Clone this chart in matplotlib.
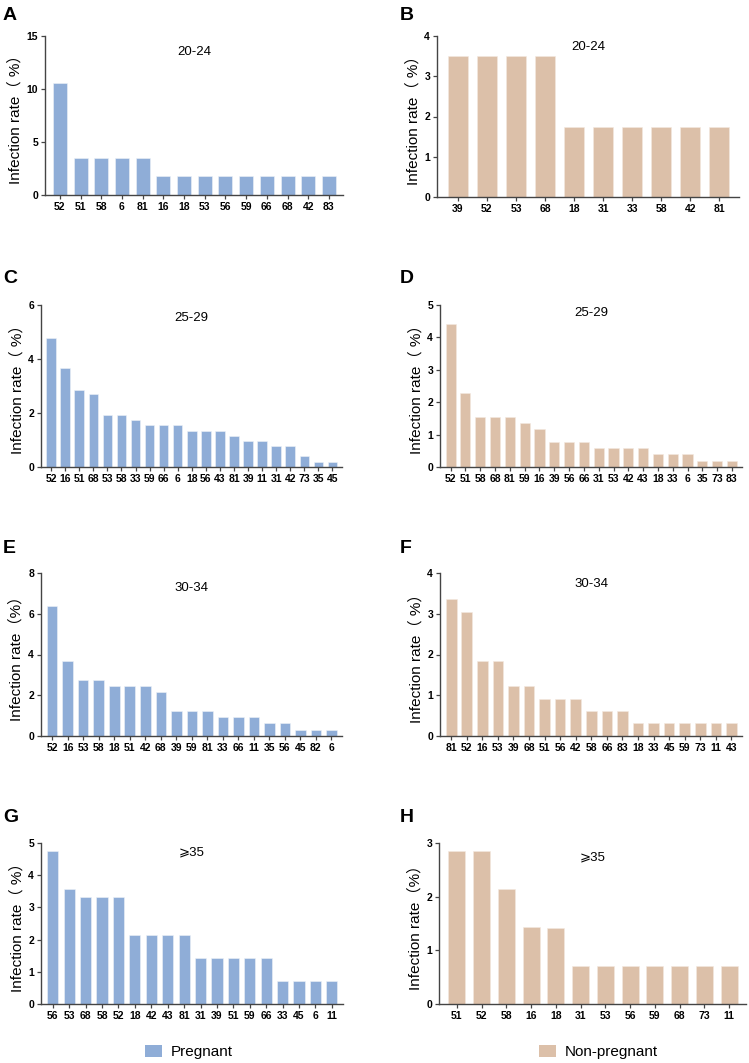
import matplotlib
matplotlib.use("Agg")
import matplotlib.pyplot as plt
from matplotlib.patches import Patch

plt.rcParams['font.family'] = ['Liberation Sans', 'DejaVu Sans', 'Noto Sans CJK SC']

BLUE = '#8FADD7'
TAN = '#DCC0A9'

# ---- data ----
a_labels = ['52', '51', '58', '6', '81', '16', '18', '53', '56', '59', '66', '68', '42', '83']
a_values = [10.53, 3.51, 3.51, 3.51, 3.51, 1.75, 1.75, 1.75, 1.75, 1.75, 1.75, 1.75, 1.75, 1.75]

b_labels = ['39', '52', '53', '68', '18', '31', '33', '58', '42', '81']
b_values = [3.51, 3.51, 3.51, 3.51, 1.75, 1.75, 1.75, 1.75, 1.75, 1.75]

c_labels = ['52', '16', '51', '68', '53', '58', '33', '59', '66', '6', '18', '56', '43', '81',
            '39', '11', '31', '42', '73', '35', '45']
c_values = [4.78, 3.65, 2.87, 2.69, 1.92, 1.92, 1.74, 1.54, 1.54, 1.54, 1.35, 1.35, 1.35, 1.16,
            0.97, 0.97, 0.78, 0.78, 0.39, 0.19, 0.19]

d_labels = ['52', '51', '58', '68', '81', '59', '16', '39', '56', '66', '31', '53', '42', '43',
            '18', '33', '6', '35', '73', '83']
d_values = [4.40, 2.29, 1.54, 1.54, 1.54, 1.36, 1.16, 0.78, 0.78, 0.78, 0.58, 0.58, 0.58, 0.58,
            0.39, 0.39, 0.39, 0.19, 0.19, 0.19]

e_labels = ['52', '16', '53', '58', '18', '51', '42', '68', '39', '59', '81', '33', '66', '11',
            '35', '56', '45', '82', '6']
e_values = [6.40, 3.67, 2.75, 2.75, 2.46, 2.46, 2.46, 2.16, 1.24, 1.24, 1.24, 0.93, 0.93, 0.93,
            0.62, 0.62, 0.31, 0.31, 0.31]

f_labels = ['81', '52', '16', '53', '39', '68', '51', '56', '42', '58', '66', '83', '18', '33',
            '45', '59', '73', '11', '43']
f_values = [3.35, 3.05, 1.83, 1.83, 1.22, 1.22, 0.92, 0.92, 0.92, 0.61, 0.61, 0.61, 0.31, 0.31,
            0.31, 0.31, 0.31, 0.31, 0.31]

g_labels = ['56', '53', '68', '58', '52', '18', '42', '43', '81', '31', '39', '51', '59', '66',
            '33', '45', '6', '11']
g_values = [4.76, 3.57, 3.33, 3.33, 3.33, 2.14, 2.14, 2.14, 2.14, 1.43, 1.43, 1.43, 1.43, 1.43,
            0.71, 0.71, 0.71, 0.71]

h_labels = ['51', '52', '58', '16', '18', '31', '53', '56', '59', '68', '73', '11']
h_values = [2.85, 2.85, 2.15, 1.43, 1.42, 0.71, 0.71, 0.71, 0.71, 0.71, 0.71, 0.71]

W, H = 749, 1063
fig = plt.figure(figsize=(W / 100, H / 100), dpi=100)

YL1 = 'Infection rate\uff08 %\uff09'
YL2 = 'Infection rate\uff08%\uff09'

panels = [
    # letter, labels, values, color, ymax, ystep, title, ylabel, (l, t, r, b) px, letter pos px
    ('A', a_labels, a_values, BLUE, 15, 5, '20-24', YL1, (45, 36, 343, 195), (3, 20)),
    ('B', b_labels, b_values, TAN, 4, 1, '20-24', YL1, (437, 36, 739, 197), (400, 20)),
    ('C', c_labels, c_values, BLUE, 6, 2, '25-29', YL1, (41, 305, 342, 467), (3, 283)),
    ('D', d_labels, d_values, TAN, 5, 1, '25-29', YL1, (440, 305, 742, 467), (400, 283)),
    ('E', e_labels, e_values, BLUE, 8, 2, '30-34', YL2, (41, 573, 342, 736), (3, 553)),
    ('F', f_labels, f_values, TAN, 4, 1, '30-34', YL1, (440, 573, 742, 736), (400, 553)),
    ('G', g_labels, g_values, BLUE, 5, 1, '\u2a7e35', YL1, (41, 843, 343, 1004), (3, 822)),
    ('H', h_labels, h_values, TAN, 3, 1, '\u2a7e35', YL2, (439, 843, 746, 1004), (400, 822)),
]

title_y = {'A': 0.90, 'B': 0.93, 'C': 0.92, 'D': 0.95, 'E': 0.91, 'F': 0.93, 'G': 0.94, 'H': 0.91}

for letter, labels, values, color, ymax, ystep, title, ylab, (l, t, r, b), (lx, ly) in panels:
    ax = fig.add_axes([l / W, 1 - b / H, (r - l) / W, (b - t) / H])
    n = len(labels)
    x = list(range(n))
    ax.bar(x, values, width=0.68, color=color, edgecolor='#EEF2F8' if color == BLUE else '#F3E9E0',
           linewidth=0.4)
    ax.set_xlim(-0.72, n - 1 + 0.68)
    ax.set_ylim(0, ymax)
    ax.set_yticks(list(range(0, ymax + 1, ystep)))
    ax.set_xticks(x)
    ax.set_xticklabels(labels, fontsize=7.5, fontweight='bold')
    for lab in ax.get_yticklabels():
        lab.set_fontsize(7.5)
        lab.set_fontweight('bold')
    for s in ['top', 'right']:
        ax.spines[s].set_visible(False)
    for s in ['left', 'bottom']:
        ax.spines[s].set_color('#444444')
        ax.spines[s].set_linewidth(1.0)
    ax.tick_params(axis='both', colors='#444444', labelcolor='black', length=3, width=0.9, pad=2)
    ax.set_ylabel(ylab, fontsize=11, family=['Liberation Sans', 'Noto Sans CJK SC'], labelpad=3)
    ax.text(0.5, title_y[letter], title, transform=ax.transAxes, ha='center', va='center',
            fontsize=9.5, family=['Liberation Sans', 'DejaVu Sans'])
    fig.text(lx / W, 1 - ly / H, letter, fontsize=14, fontweight='bold', ha='left', va='baseline')

leg1 = fig.legend(handles=[Patch(facecolor=BLUE, edgecolor='none', label='Pregnant')],
                  loc='center left', bbox_to_anchor=(145 / W, 1 - 1052 / H), frameon=False,
                  fontsize=11, handlelength=1.1, handleheight=0.8, handletextpad=0.6,
                  borderpad=0, borderaxespad=0)
leg2 = fig.legend(handles=[Patch(facecolor=TAN, edgecolor='none', label='Non-pregnant')],
                  loc='center left', bbox_to_anchor=(539 / W, 1 - 1052 / H), frameon=False,
                  fontsize=11, handlelength=1.1, handleheight=0.8, handletextpad=0.6,
                  borderpad=0, borderaxespad=0)

fig.savefig('out.png', dpi=100)
